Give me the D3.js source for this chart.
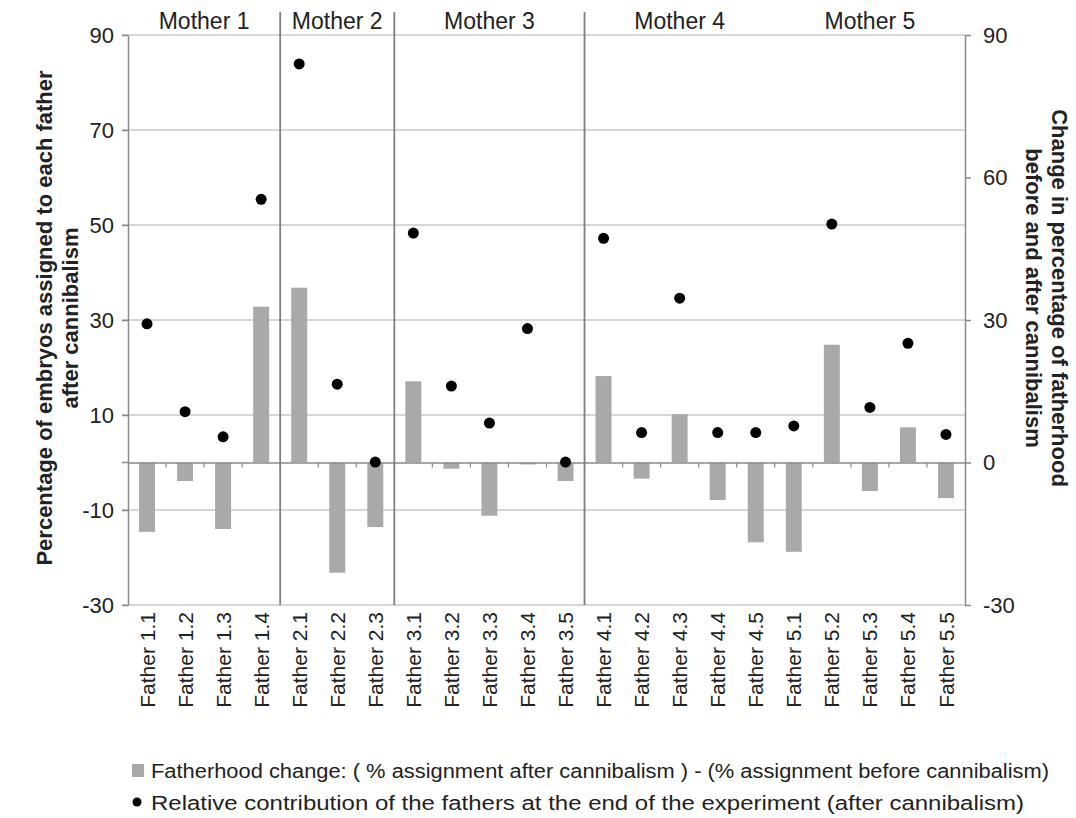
<!DOCTYPE html>
<html>
<head>
<meta charset="utf-8">
<script src="https://cdn.jsdelivr.net/npm/d3@7"></script>
<style>
  body { margin: 0; background: #fff; }
  svg { display: block; font-family: "Liberation Sans", Arial, sans-serif; }
</style>
</head>
<body>
<svg id="chart" width="1076" height="818"></svg>
<script>
// data
const fathers = [
  "Father 1.1", "Father 1.2", "Father 1.3", "Father 1.4",
  "Father 2.1", "Father 2.2", "Father 2.3",
  "Father 3.1", "Father 3.2", "Father 3.3", "Father 3.4", "Father 3.5",
  "Father 4.1", "Father 4.2", "Father 4.3", "Father 4.4", "Father 4.5",
  "Father 5.1", "Father 5.2", "Father 5.3", "Father 5.4", "Father 5.5"
];
// bars: fatherhood change (after - before)
const fatherhoodChange = [
  -14.6, -3.9, -14.0, 32.8,
  36.8, -23.2, -13.6,
  17.1, -1.3, -11.2, -0.4, -3.9,
  18.2, -3.4, 10.2, -7.9, -16.8,
  -18.8, 24.8, -6.0, 7.4, -7.5
];
// dots: relative contribution after cannibalism
const contribution = [
  29.2, 10.7, 5.4, 55.4,
  83.9, 16.5, 0.1,
  48.3, 16.1, 8.3, 28.2, 0.1,
  47.2, 6.3, 34.6, 6.3, 6.3,
  7.7, 50.2, 11.6, 25.1, 5.9
];
const mothers = ["Mother 1", "Mother 2", "Mother 3", "Mother 4", "Mother 5"];
const motherFirst = ["Father 1.1", "Father 2.1", "Father 3.1", "Father 4.1", "Father 5.1"];
const motherLast = ["Father 1.4", "Father 2.3", "Father 3.5", "Father 4.5", "Father 5.5"];
const separatorsAfter = ["Father 1.4", "Father 2.3", "Father 3.5"];
const leftTicks = [-30, -10, 10, 30, 50, 70, 90];
const rightTicks = [-30, 0, 30, 60, 90];
const legendLabels = [
  "Fatherhood change: ( % assignment after cannibalism ) - (% assignment before cannibalism)",
  "Relative contribution of the fathers at the end of the experiment (after cannibalism)"
];

const plotLeft = 128, plotRight = 965, plotTop = 35, plotBottom = 605;
const barColor = "#a7a9ab", gridColor = "#c9c9c9", axisColor = "#8a8a8a", sepColor = "#7f7f7f";
const font = "Liberation Sans, Arial, sans-serif";

const svg = d3.select("#chart");

const x = d3.scaleBand().domain(fathers).range([plotLeft, plotRight]).padding(0);
const y = d3.scaleLinear().domain([-30, 90]).range([plotBottom, plotTop]);
const yR = d3.scaleLinear().domain([-30, 90]).range([plotBottom, plotTop]);
const barW = x.bandwidth() * 0.42;

// gridlines
svg.append("g").selectAll("line").data(leftTicks).join("line")
  .attr("x1", plotLeft - 6).attr("x2", plotRight)
  .attr("y1", d => y(d)).attr("y2", d => y(d))
  .attr("stroke", gridColor).attr("stroke-width", 1.5);

// bars
svg.append("g").selectAll("rect").data(fathers).join("rect")
  .attr("x", d => x(d) + x.bandwidth() / 2 - barW / 2)
  .attr("width", barW)
  .attr("y", (d, i) => y(Math.max(0, fatherhoodChange[i])))
  .attr("height", (d, i) => Math.abs(y(fatherhoodChange[i]) - y(0)))
  .attr("fill", barColor);

// zero line with category ticks
const zeroAxis = svg.append("g")
  .attr("transform", `translate(0,${y(0)})`)
  .call(d3.axisBottom(x).tickSize(0).tickFormat(""));
zeroAxis.select(".domain").attr("stroke", axisColor).attr("stroke-width", 1.5);
zeroAxis.append("line").attr("x1", plotLeft - 6).attr("x2", plotLeft).attr("stroke", axisColor).attr("stroke-width", 1.5);
svg.append("g").selectAll("line").data(fathers.slice(0, -1)).join("line")
  .attr("x1", d => x(d) + x.bandwidth()).attr("x2", d => x(d) + x.bandwidth())
  .attr("y1", y(0)).attr("y2", y(0) + 5)
  .attr("stroke", axisColor).attr("stroke-width", 1.2);

// left axis
const axL = svg.append("g").attr("transform", `translate(${plotLeft},0)`)
  .call(d3.axisLeft(y).tickValues(leftTicks).tickFormat(d => String(d))
    .tickSize(6).tickSizeOuter(0).tickPadding(8));
axL.select(".domain").attr("stroke", axisColor).attr("stroke-width", 1.5);
axL.selectAll(".tick line").attr("stroke", axisColor).attr("stroke-width", 1.5);
axL.selectAll(".tick text").attr("font-size", 22).attr("fill", "#222").attr("font-family", font);

// right axis
const axR = svg.append("g").attr("transform", `translate(${plotRight},0)`)
  .call(d3.axisRight(yR).tickValues(rightTicks).tickFormat(d => String(d))
    .tickSize(6).tickSizeOuter(0).tickPadding(12));
axR.select(".domain").attr("stroke", axisColor).attr("stroke-width", 1.5);
axR.selectAll(".tick line").attr("stroke", axisColor).attr("stroke-width", 1.5);
axR.selectAll(".tick text").attr("font-size", 22).attr("fill", "#222").attr("font-family", font);

// mother separators
svg.append("g").selectAll("line").data(separatorsAfter).join("line")
  .attr("x1", d => x(d) + x.bandwidth()).attr("x2", d => x(d) + x.bandwidth())
  .attr("y1", 12).attr("y2", plotBottom)
  .attr("stroke", sepColor).attr("stroke-width", 1.8);

// mother labels
svg.append("g").selectAll("text").data(mothers).join("text")
  .attr("x", (d, i) => (x(motherFirst[i]) + x(motherLast[i]) + x.bandwidth()) / 2)
  .attr("y", 29)
  .attr("text-anchor", "middle")
  .attr("font-size", 23)
  .attr("fill", "#222")
  .text(d => d);

// dots
svg.append("g").selectAll("circle").data(fathers).join("circle")
  .attr("cx", d => x(d) + x.bandwidth() / 2)
  .attr("cy", (d, i) => y(contribution[i]))
  .attr("r", 5.5)
  .attr("fill", "#000");

// x labels
svg.append("g").selectAll("text").data(fathers).join("text")
  .attr("transform", d => `translate(${x(d) + x.bandwidth() / 2},612) rotate(-90)`)
  .attr("dy", "0.36em")
  .attr("text-anchor", "end")
  .attr("font-size", 21)
  .attr("fill", "#222")
  .text(d => d);

// left title
const tL = svg.append("text")
  .attr("transform", "translate(52,318) rotate(-90)")
  .attr("text-anchor", "middle")
  .attr("font-size", 22)
  .attr("font-weight", "bold")
  .attr("fill", "#222");
tL.append("tspan").attr("x", 0).attr("y", 0).text("Percentage of embryos assigned to each father");
tL.append("tspan").attr("x", 0).attr("y", 26).text("after cannibalism");

// right title
const tR = svg.append("text")
  .attr("transform", "translate(1052,298) rotate(90)")
  .attr("text-anchor", "middle")
  .attr("font-size", 22)
  .attr("font-weight", "bold")
  .attr("fill", "#222");
tR.append("tspan").attr("x", 0).attr("y", 0).text("Change in percentage of fatherhood");
tR.append("tspan").attr("x", 0).attr("y", 26).text("before and after cannibalism");

// legend
const lg = svg.append("g");
lg.append("rect").attr("x", 132).attr("y", 764).attr("width", 12).attr("height", 13).attr("fill", barColor);
lg.append("circle").attr("cx", 137).attr("cy", 802).attr("r", 4.5).attr("fill", "#000");
lg.selectAll("text").data(legendLabels).join("text")
  .attr("x", 151)
  .attr("y", (d, i) => 778 + i * 32)
  .attr("font-size", 20)
  .attr("fill", "#222")
  .attr("textLength", (d, i) => i === 0 ? 898 : 873)
  .attr("lengthAdjust", "spacingAndGlyphs")
  .text(d => d);
</script>
</body>
</html>
